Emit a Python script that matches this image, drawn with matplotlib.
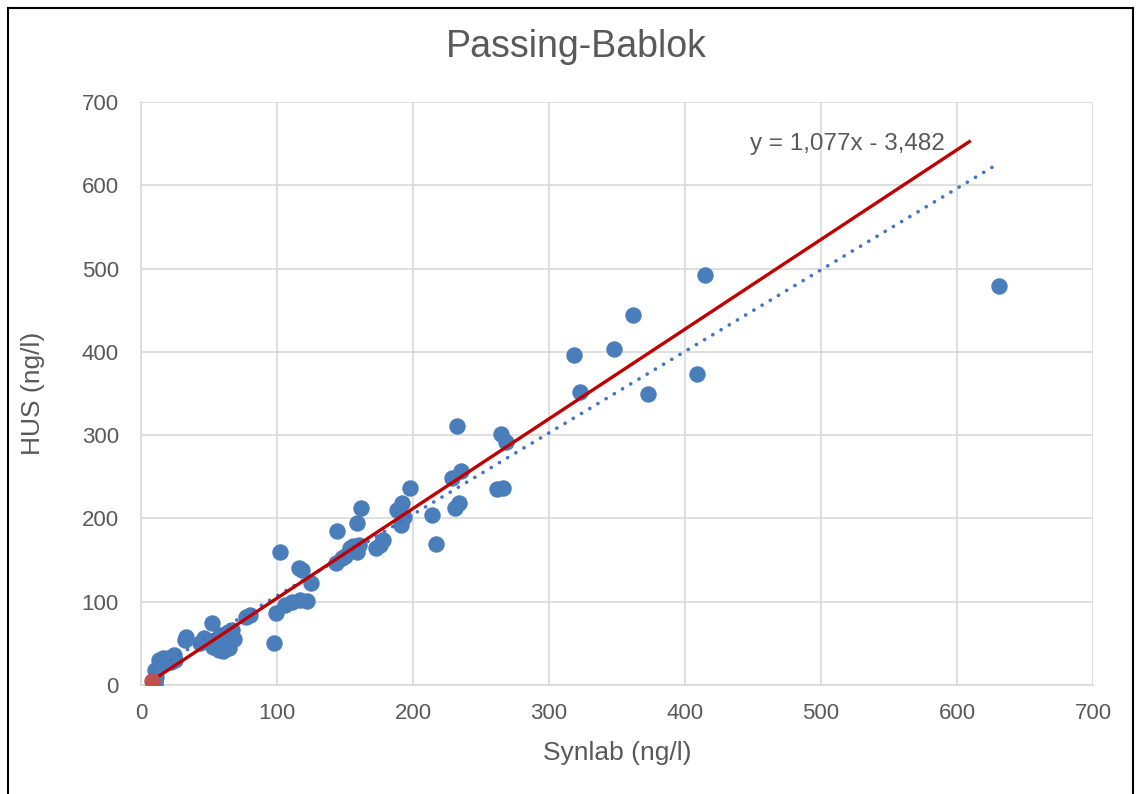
import matplotlib.pyplot as plt
import numpy as np

plt.rcParams['font.family'] = ['Liberation Sans', 'DejaVu Sans']

# Synlab (x) vs HUS (y), ng/l
synlab = [10, 10, 11, 10, 14, 13, 16, 20, 24, 25, 22,
          32, 33, 43, 46, 52, 53, 57, 60, 62, 64, 67, 68, 65, 58, 55,
          77, 80,
          98, 99, 102, 106, 111, 117, 122, 116, 118, 125,
          144, 143, 148, 150, 154, 156, 159, 160, 159, 162, 173, 176, 178,
          188, 192, 193, 191, 198, 214, 217,
          229, 231, 232, 234, 235, 262, 266, 265, 268,
          318, 323, 348, 362, 373, 409, 415, 631]
hus = [1, 4, 10, 18, 23, 30, 32, 33, 36, 30, 28,
       54, 58, 50, 57, 74, 46, 42, 41, 48, 64, 66, 55, 44, 60, 50,
       82, 84,
       50, 87, 160, 96, 100, 102, 101, 141, 138, 122,
       185, 146, 152, 155, 164, 167, 160, 168, 194, 213, 164, 168, 174,
       210, 218, 202, 192, 237, 204, 169,
       248, 212, 311, 219, 257, 235, 237, 301, 292,
       396, 352, 404, 444, 350, 373, 492, 479]

# Passing-Bablok regression
pb_slope = 1.077
pb_intercept = -3.482
pb_x = [8, 609]

x = np.array(synlab)
y = np.array(hus)

fig = plt.figure(figsize=(11.41, 7.94), dpi=100)
ax = fig.add_axes([0.1236, 0.1373, 0.958 - 0.1236, 0.8715 - 0.1373])

ax.scatter(x, y, s=140, color='#4a7ebb', zorder=3, linewidths=0)

# linear trendline (dotted)
k, b = np.polyfit(x, y, 1)
tx = np.array([x.min(), x.max()])
ax.plot(tx, k * tx + b, color='#4472c4', lw=2.6, ls=(0, (0.05, 2.6)),
        dash_capstyle='round', zorder=4)

px = np.array(pb_x)
ax.plot(px, pb_slope * px + pb_intercept, color='#c00000', lw=2.4, zorder=5)
ax.scatter([px[0]], [pb_slope * px[0] + pb_intercept], s=140,
           color='#c0504d', zorder=6, linewidths=0)

ax.text(519, 650, 'y = 1,077x - 3,482', fontsize=17.5,
        color='#595959', ha='center', va='center')

ax.set_xlim(0, 700)
ax.set_ylim(0, 700)
ax.set_xticks(range(0, 701, 100))
ax.set_yticks(range(0, 701, 100))
ax.grid(True, color='#d9d9d9', lw=1.2)
ax.set_axisbelow(True)
for s in ['top', 'right']:
    ax.spines[s].set_visible(False)
for s in ['left', 'bottom']:
    ax.spines[s].set_color('#d9d9d9')
    ax.spines[s].set_linewidth(1.2)
ax.tick_params(length=0, labelsize=16, labelcolor='#595959')
ax.tick_params(axis='y', pad=16)
ax.tick_params(axis='x', pad=13)

ax.set_xlabel('Synlab (ng/l)', fontsize=19, color='#595959', labelpad=12)
ax.set_ylabel('HUS (ng/l)', fontsize=19, color='#595959', labelpad=26)
fig.text(0.505, 0.941, 'Passing-Bablok', fontsize=27, color='#595959',
         ha='center', va='center')

# chart border
fig.add_artist(plt.Line2D([8 / 1141, 8 / 1141], [0, 1 - 8 / 794], color='black', lw=1.5))
fig.add_artist(plt.Line2D([8 / 1141, 1133 / 1141], [1 - 8 / 794, 1 - 8 / 794], color='black', lw=1.5))
fig.add_artist(plt.Line2D([1133 / 1141, 1133 / 1141], [0, 1 - 8 / 794], color='black', lw=1.5))

fig.savefig('out.png', dpi=100)
